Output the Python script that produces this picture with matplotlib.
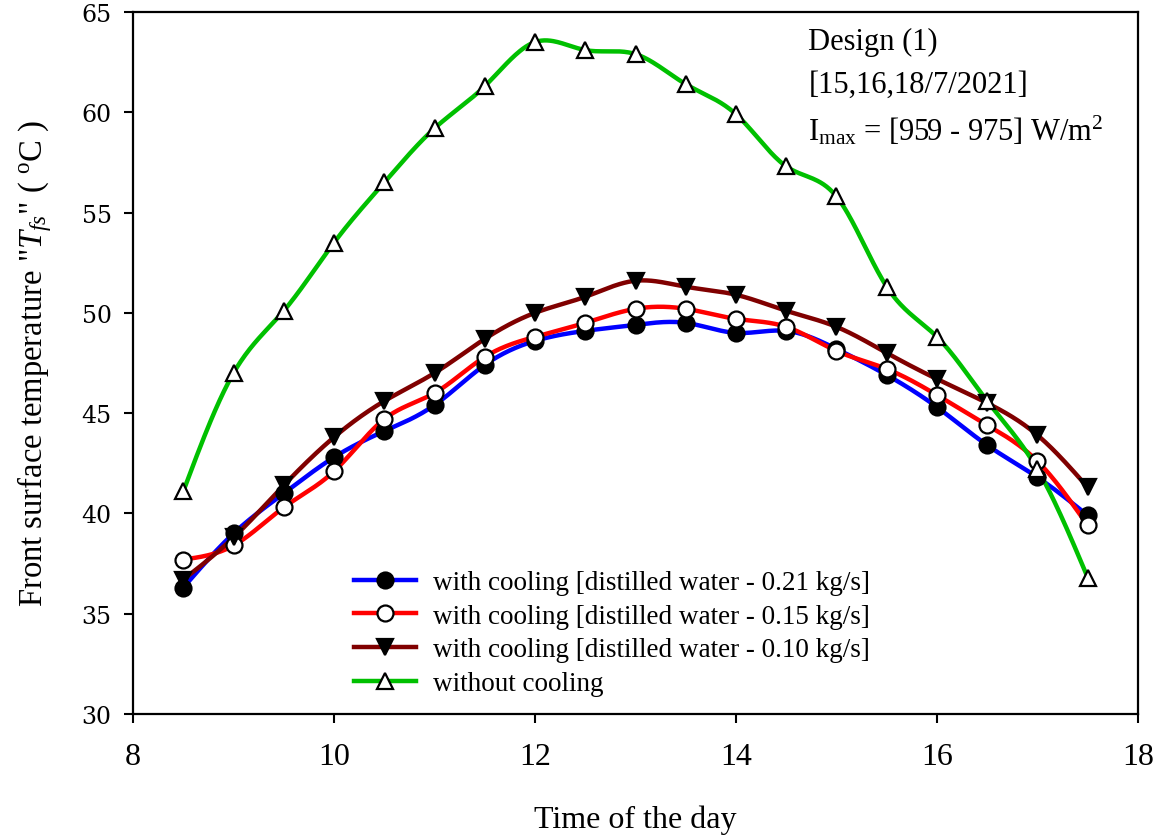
import numpy as np
import matplotlib
matplotlib.use("Agg")
import matplotlib.pyplot as plt

plt.rcParams["font.family"] = ["Liberation Serif", "DejaVu Serif"]
plt.rcParams["mathtext.fontset"] = "custom"
plt.rcParams["mathtext.rm"] = "Liberation Serif"
plt.rcParams["mathtext.it"] = "Liberation Serif:italic"
plt.rcParams["mathtext.bf"] = "Liberation Serif:bold"

# Time of day (h)
time_h = [8.5, 9.0, 9.5, 10.0, 10.5, 11.0, 11.5, 12.0, 12.5, 13.0,
          13.5, 14.0, 14.5, 15.0, 15.5, 16.0, 16.5, 17.0, 17.5]

# Front surface temperature (deg C)
t_021 = [36.3, 39.0, 41.0, 42.8, 44.1, 45.4, 47.4, 48.6, 49.1, 49.4,
         49.5, 49.0, 49.1, 48.2, 46.9, 45.3, 43.4, 41.8, 39.9]
t_015 = [37.7, 38.4, 40.3, 42.1, 44.7, 46.0, 47.8, 48.8, 49.5, 50.2,
         50.2, 49.7, 49.3, 48.1, 47.2, 45.9, 44.4, 42.6, 39.4]
t_010 = [36.7, 38.8, 41.4, 43.8, 45.6, 47.0, 48.7, 50.0, 50.8, 51.6,
         51.3, 50.9, 50.1, 49.3, 48.0, 46.7, 45.5, 43.9, 41.3]
t_none = [41.1, 47.0, 50.1, 53.5, 56.5, 59.2, 61.3, 63.5, 63.1, 62.9,
          61.4, 59.9, 57.3, 55.8, 51.3, 48.8, 45.6, 42.2, 36.8]

labels = ["with cooling [distilled water - 0.21 kg/s]",
          "with cooling [distilled water - 0.15 kg/s]",
          "with cooling [distilled water - 0.10 kg/s]",
          "without cooling"]

x_ticks = [8, 10, 12, 14, 16, 18]
y_ticks = [30, 35, 40, 45, 50, 55, 60, 65]


def natural_spline(x, y, n=600):
    """Natural cubic spline through (x, y), evaluated on a fine grid."""
    x = np.asarray(x, float)
    y = np.asarray(y, float)
    k = len(x)
    h = np.diff(x)
    A = np.zeros((k, k))
    b = np.zeros(k)
    A[0, 0] = A[-1, -1] = 1.0
    for i in range(1, k - 1):
        A[i, i - 1] = h[i - 1]
        A[i, i] = 2 * (h[i - 1] + h[i])
        A[i, i + 1] = h[i]
        b[i] = 6 * ((y[i + 1] - y[i]) / h[i] - (y[i] - y[i - 1]) / h[i - 1])
    M = np.linalg.solve(A, b)
    xs = np.linspace(x[0], x[-1], n)
    idx = np.clip(np.searchsorted(x, xs) - 1, 0, k - 2)
    x0, x1 = x[idx], x[idx + 1]
    hh = x1 - x0
    a = (x1 - xs) / hh
    bb = (xs - x0) / hh
    ys = (a * y[idx] + bb * y[idx + 1]
          + ((a ** 3 - a) * M[idx] + (bb ** 3 - bb) * M[idx + 1]) * hh ** 2 / 6)
    return xs, ys


fig = plt.figure(figsize=(11.58, 8.37), dpi=100)
ax = fig.add_axes([0.1149, 0.1458, 0.8678, 0.8387])

series = [
    (t_021, "#0000ff", dict(marker="o", mfc="black", mec="black")),
    (t_015, "#ff0000", dict(marker="o", mfc="white", mec="black")),
    (t_010, "#800000", dict(marker="v", mfc="black", mec="black")),
    (t_none, "#00c000", dict(marker="^", mfc="white", mec="black")),
]

handles = []
for i, (vals, color, mk) in enumerate(series):
    xs, ys = natural_spline(time_h, vals)
    ax.plot(xs, ys, color=color, lw=3.2, zorder=2 + i * 0.1,
            solid_capstyle="round")
    ax.plot(time_h, vals, ls="none", ms=11.5, mew=1.6, zorder=3 + i * 0.1,
            **mk)
    h, = ax.plot([], [], color=color, lw=3.2, ms=11.5, mew=1.6, **mk)
    handles.append(h)

ax.set_xlim(8, 18)
ax.set_ylim(30, 65)
ax.set_xticks(x_ticks)
ax.set_yticks(y_ticks)
ax.set_xticklabels([str(v) for v in x_ticks], fontsize=23,
                   family="Liberation Serif")
ax.set_yticklabels([str(v) for v in y_ticks], fontsize=17,
                   family="DejaVu Serif")
ax.tick_params(axis="x", direction="out", length=6.5, width=1.5, pad=14)
ax.tick_params(axis="y", direction="out", length=6.5, width=1.5, pad=9)
for s in ax.spines.values():
    s.set_linewidth(1.6)

ax.set_xlabel("Time of the day", fontsize=23, labelpad=24)
ax.set_ylabel('Front surface temperature "$T_{fs}$" ( $^{\\mathrm{o}}$C )',
              fontsize=23.5, labelpad=20)

ax.text(0.672, 0.958, "Design (1)", transform=ax.transAxes,
        fontsize=22, va="center", ha="left")
ax.text(0.672, 0.897, "[15,16,18/7/2021]", transform=ax.transAxes,
        fontsize=22, va="center", ha="left")
ax.text(0.672, 0.833, r"I$_{\mathrm{max}}$ = [959 - 975] W/m$^{2}$",
        transform=ax.transAxes, fontsize=22, va="center", ha="left")

ax.legend(handles, labels, loc="upper left", bbox_to_anchor=(0.22, 0.205),
          frameon=False, fontsize=19.5, handlelength=2.3, handletextpad=0.6,
          labelspacing=0.32, borderaxespad=0, borderpad=0)

fig.savefig("out.png", dpi=100)
